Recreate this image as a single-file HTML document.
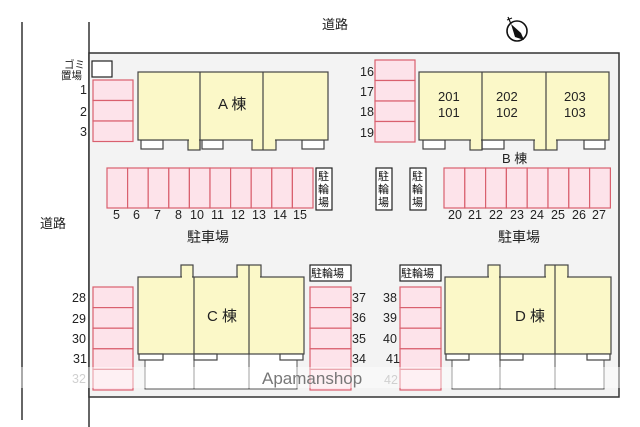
<!DOCTYPE html>
<html><head><meta charset="utf-8"><style>
html,body{margin:0;padding:0;background:#fff;}
svg{display:block;}
text{font-family:"Liberation Sans","Noto Sans CJK JP",sans-serif;fill:#222;}
.p{fill:#fde3ea;stroke:#d9606e;stroke-width:1.2;}
.b{fill:#fbf8c8;stroke:#444;stroke-width:1.2;}
.w{fill:#fff;stroke:#444;stroke-width:1.2;}
.k{fill:#fff;stroke:#222;stroke-width:1.2;}
.n{font-size:12.5px;}
.j{font-size:11px;fill:#111;}
</style></head><body>
<svg width="640" height="427" viewBox="0 0 640 427" xmlns="http://www.w3.org/2000/svg">
<rect x="0" y="0" width="640" height="427" fill="#fff"/>
<line x1="22" y1="22" x2="22" y2="420" stroke="#333" stroke-width="1.5"/>
<line x1="89" y1="22" x2="89" y2="427" stroke="#333" stroke-width="1.5"/>
<rect x="89" y="53" width="530" height="344" fill="#f3f3f3" stroke="#333" stroke-width="1.5"/>
<text x="322" y="29" font-size="13">道路</text>
<text x="40" y="228" font-size="13">道路</text>
<g transform="translate(517,31)">
<circle r="10" fill="#fff" stroke="#111" stroke-width="1.6"/>
<polygon points="-6,-7 4,2 7,9 -2,6" fill="#111"/>
<line x1="-6" y1="-7" x2="-9" y2="-14" stroke="#111" stroke-width="1.2"/>
<line x1="-10" y1="-11" x2="-5" y2="-13" stroke="#111" stroke-width="1"/>
</g>
<text x="64" y="68" font-size="10.5">ゴミ</text>
<text x="61" y="79" font-size="10.5">置場</text>
<rect x="92" y="61" width="20" height="16" class="k"/>
<g><rect x="93" y="80" width="40" height="20.5" class="p"/><rect x="93" y="100.5" width="40" height="20.5" class="p"/><rect x="93" y="121" width="40" height="20.5" class="p"/></g>
<text x="80" y="94" class="n">1</text><text x="80" y="116" class="n">2</text><text x="80" y="136" class="n">3</text>
<rect x="141" y="140" width="22" height="9" class="w"/><rect x="202" y="140" width="21" height="9" class="w"/><rect x="302" y="140" width="22" height="9" class="w"/>
<rect x="188" y="138" width="12" height="12" class="b"/><rect x="252" y="138" width="24" height="12" class="b"/>
<rect x="138" y="72" width="190" height="68" class="b"/>
<rect x="189" y="139" width="10" height="3" fill="#fbf8c8"/><rect x="253" y="139" width="22" height="3" fill="#fbf8c8"/>
<line x1="200" y1="72" x2="200" y2="150" stroke="#444" stroke-width="1.2"/>
<line x1="263" y1="72" x2="263" y2="150" stroke="#444" stroke-width="1.2"/>
<text x="218" y="109" font-size="15">A 棟</text>
<rect x="375" y="60" width="40" height="20.5" class="p"/><rect x="375" y="80.5" width="40" height="20.5" class="p"/><rect x="375" y="101" width="40" height="20.5" class="p"/><rect x="375" y="121.5" width="40" height="20.5" class="p"/>
<text x="360" y="76" class="n">16</text><text x="360" y="96" class="n">17</text><text x="360" y="116" class="n">18</text><text x="360" y="137" class="n">19</text>
<rect x="423" y="140" width="22" height="9" class="w"/><rect x="482" y="140" width="22" height="9" class="w"/><rect x="584" y="140" width="21" height="9" class="w"/>
<rect x="470" y="138" width="12" height="12" class="b"/><rect x="534" y="138" width="23" height="12" class="b"/>
<rect x="419" y="72" width="190" height="68" class="b"/>
<rect x="471" y="139" width="10" height="3" fill="#fbf8c8"/><rect x="535" y="139" width="21" height="3" fill="#fbf8c8"/>
<line x1="482" y1="72" x2="482" y2="150" stroke="#444" stroke-width="1.2"/>
<line x1="546" y1="72" x2="546" y2="150" stroke="#444" stroke-width="1.2"/>
<text x="438" y="101" font-size="13">201</text><text x="438" y="117" font-size="13">101</text>
<text x="496" y="101" font-size="13">202</text><text x="496" y="117" font-size="13">102</text>
<text x="564" y="101" font-size="13">203</text><text x="564" y="117" font-size="13">103</text>
<text x="502" y="163" font-size="13">B 棟</text>
<g>
<rect x="107" y="168" width="20.6" height="40" class="p"/><rect x="127.6" y="168" width="20.6" height="40" class="p"/><rect x="148.2" y="168" width="20.6" height="40" class="p"/><rect x="168.8" y="168" width="20.6" height="40" class="p"/><rect x="189.4" y="168" width="20.6" height="40" class="p"/><rect x="210" y="168" width="20.6" height="40" class="p"/><rect x="230.6" y="168" width="20.6" height="40" class="p"/><rect x="251.2" y="168" width="20.6" height="40" class="p"/><rect x="271.8" y="168" width="20.6" height="40" class="p"/><rect x="292.4" y="168" width="20.6" height="40" class="p"/>
</g>
<text x="113" y="219" class="n">5</text><text x="133" y="219" class="n">6</text><text x="154" y="219" class="n">7</text><text x="175" y="219" class="n">8</text><text x="190" y="219" class="n">10</text><text x="211" y="219" class="n">11</text><text x="231" y="219" class="n">12</text><text x="252" y="219" class="n">13</text><text x="273" y="219" class="n">14</text><text x="293" y="219" class="n">15</text>
<rect x="316" y="168" width="16" height="42" class="k"/><text x="318" y="180" class="j">駐</text><text x="318" y="193" class="j">輪</text><text x="318" y="206" class="j">場</text>
<rect x="376" y="168" width="16" height="42" class="k"/><text x="378" y="180" class="j">駐</text><text x="378" y="193" class="j">輪</text><text x="378" y="206" class="j">場</text>
<rect x="410" y="168" width="16" height="42" class="k"/><text x="412" y="180" class="j">駐</text><text x="412" y="193" class="j">輪</text><text x="412" y="206" class="j">場</text>
<g>
<rect x="444" y="168" width="20.8" height="40" class="p"/><rect x="464.8" y="168" width="20.8" height="40" class="p"/><rect x="485.6" y="168" width="20.8" height="40" class="p"/><rect x="506.4" y="168" width="20.8" height="40" class="p"/><rect x="527.2" y="168" width="20.8" height="40" class="p"/><rect x="548" y="168" width="20.8" height="40" class="p"/><rect x="568.8" y="168" width="20.8" height="40" class="p"/><rect x="589.6" y="168" width="20.8" height="40" class="p"/>
</g>
<text x="448" y="219" class="n">20</text><text x="468" y="219" class="n">21</text><text x="489" y="219" class="n">22</text><text x="510" y="219" class="n">23</text><text x="530" y="219" class="n">24</text><text x="551" y="219" class="n">25</text><text x="572" y="219" class="n">26</text><text x="592" y="219" class="n">27</text>
<text x="187" y="242" font-size="14">駐車場</text>
<text x="498" y="242" font-size="14">駐車場</text>
<rect x="145" y="354" width="152" height="35" fill="#fff" stroke="#555" stroke-width="1"/>
<line x1="194" y1="354" x2="194" y2="389" stroke="#555"/><line x1="249" y1="354" x2="249" y2="389" stroke="#555"/>
<rect x="181" y="265" width="12" height="14" class="b"/><rect x="237" y="265" width="24" height="14" class="b"/>
<rect x="138" y="277" width="166" height="77" class="b"/>
<rect x="182" y="276" width="10" height="3" fill="#fbf8c8"/><rect x="238" y="276" width="22" height="3" fill="#fbf8c8"/>
<line x1="194" y1="277" x2="194" y2="354" stroke="#444" stroke-width="1.2"/><line x1="249" y1="265" x2="249" y2="354" stroke="#444" stroke-width="1.2"/>
<rect x="139" y="354" width="24" height="6" class="w"/><rect x="194" y="354" width="23" height="6" class="w"/><rect x="280" y="354" width="23" height="6" class="w"/>
<text x="207" y="321" font-size="15">C 棟</text>
<rect x="93" y="287" width="40" height="20.6" class="p"/><rect x="93" y="307.6" width="40" height="20.6" class="p"/><rect x="93" y="328.2" width="40" height="20.6" class="p"/><rect x="93" y="348.8" width="40" height="20.6" class="p"/><rect x="93" y="369.4" width="40" height="20.6" class="p"/>
<text x="72" y="302" class="n">28</text><text x="72" y="323" class="n">29</text><text x="72" y="343" class="n">30</text><text x="73" y="363" class="n">31</text><text x="72" y="383" class="n" style="fill:#aaa">32</text>
<rect x="310" y="265" width="41" height="16" class="k"/><text x="311" y="277" class="j">駐輪場</text>
<rect x="400" y="265" width="41" height="16" class="k"/><text x="401" y="277" class="j">駐輪場</text>
<rect x="310" y="287" width="41" height="20.6" class="p"/><rect x="310" y="307.6" width="41" height="20.6" class="p"/><rect x="310" y="328.2" width="41" height="20.6" class="p"/><rect x="310" y="348.8" width="41" height="20.6" class="p"/><rect x="310" y="369.4" width="41" height="20.6" class="p"/>
<rect x="400" y="287" width="41" height="20.6" class="p"/><rect x="400" y="307.6" width="41" height="20.6" class="p"/><rect x="400" y="328.2" width="41" height="20.6" class="p"/><rect x="400" y="348.8" width="41" height="20.6" class="p"/><rect x="400" y="369.4" width="41" height="20.6" class="p"/>
<text x="352" y="302" class="n">37</text><text x="352" y="322" class="n">36</text><text x="352" y="343" class="n">35</text><text x="352" y="363" class="n">34</text>
<text x="383" y="302" class="n">38</text><text x="383" y="322" class="n">39</text><text x="383" y="343" class="n">40</text><text x="386" y="363" class="n">41</text><text x="384" y="384" class="n" style="fill:#aaa">42</text>
<rect x="452" y="354" width="152" height="35" fill="#fff" stroke="#555" stroke-width="1"/>
<line x1="500" y1="354" x2="500" y2="389" stroke="#555"/><line x1="555" y1="354" x2="555" y2="389" stroke="#555"/>
<rect x="488" y="265" width="12" height="14" class="b"/><rect x="545" y="265" width="23" height="14" class="b"/>
<rect x="445" y="277" width="166" height="77" class="b"/>
<rect x="489" y="276" width="10" height="3" fill="#fbf8c8"/><rect x="546" y="276" width="21" height="3" fill="#fbf8c8"/>
<line x1="500" y1="277" x2="500" y2="354" stroke="#444" stroke-width="1.2"/><line x1="555" y1="265" x2="555" y2="354" stroke="#444" stroke-width="1.2"/>
<rect x="446" y="354" width="23" height="6" class="w"/><rect x="500" y="354" width="23" height="6" class="w"/><rect x="587" y="354" width="23" height="6" class="w"/>
<text x="515" y="321" font-size="15">D 棟</text>
<rect x="0" y="367" width="640" height="21" fill="#fff" opacity="0.45"/>
<text x="262" y="384" font-size="17" style="fill:#777">Apamanshop</text>
</svg>
</body></html>
